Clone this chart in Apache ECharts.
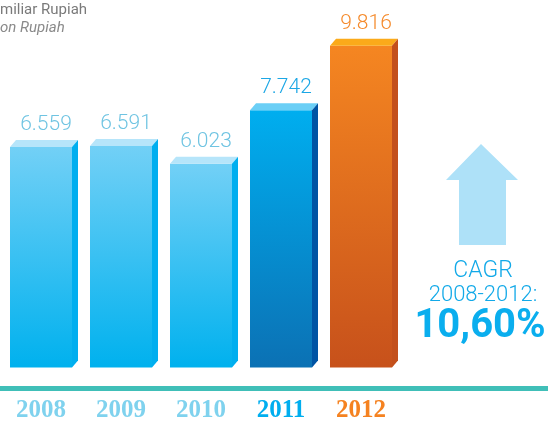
<!DOCTYPE html>
<html><head><meta charset="utf-8">
<script src="https://cdn.jsdelivr.net/npm/echarts@6/dist/echarts.min.js"></script>
<style>html,body{margin:0;padding:0;background:#fff}#c{width:548px;height:423px}</style>
</head><body><div id="c"></div>
<script>
var years = ['2008','2009','2010','2011','2012'];
var values = [6559, 6591, 6023, 7742, 9816];
var valueLabels = ['6.559','6.591','6.023','7.742','9.816'];
var yMin = -530, yMax = 11290;

var light = {front:['#72d0f6','#00b1ee'], top:'#b6e5fa', side:'#00aeef', label:'#6fc4e2', axis:'#7fd2ee'};
var palette = [light, light, light,
  {front:['#00aeef','#0b71b4'], top:'#6bcff6', side:'#0054a4', label:'#1ca7e5', axis:'#00aeef'},
  {front:['#f58621','#c7511b'], top:'#fbaa1a', side:'#c3501c', label:'#f58a2b', axis:'#f58220'}];

var chart = echarts.init(document.getElementById('c'));
chart.setOption({
  animation:false,
  grid:{left:1, right:147, top:0, bottom:53},
  xAxis:{type:'category', data:years, axisLine:{show:false}, axisTick:{show:false},
    axisLabel:{margin:31, fontFamily:'Liberation Serif', fontWeight:'bold', fontSize:25, lineHeight:24,
      color:function(v,i){return palette[i].axis;}}},
  yAxis:{type:'value', min:yMin, max:yMax, show:false, splitLine:{show:false}},
  series:[{
    type:'custom',
    data: values.map(function(v,i){return [i,v];}),
    renderItem:function(params, api){
      var i = api.value(0);
      var top = api.coord([i, api.value(1)]);
      var bot = api.coord([i, yMin]);
      var hw = 31, dx = 6, dy = 7;
      var x0 = top[0]-hw, x1 = top[0]+hw, yt = top[1], yb = bot[1];
      var p = palette[i];
      return {type:'group', children:[
        {type:'rect', shape:{x:x0, y:yt, width:x1-x0, height:yb-yt},
          style:{fill:new echarts.graphic.LinearGradient(0,0,0,1,[{offset:0,color:p.front[0]},{offset:1,color:p.front[1]}])}},
        {type:'polygon', shape:{points:[[x0,yt],[x0+dx,yt-dy],[x1+dx,yt-dy],[x1,yt]]}, style:{fill:p.top}},
        {type:'polygon', shape:{points:[[x1,yt],[x1+dx,yt-dy],[x1+dx,yb-dy],[x1,yb]]}, style:{fill:p.side}},
        {type:'text', style:{text:valueLabels[i], x:top[0]+5, y:yt-dy-5, textAlign:'center', textVerticalAlign:'bottom',
          fontFamily:'Roboto', fontWeight:300, fontSize:21, fill:p.label}}
      ]};
    }
  }],
  graphic:[
    {type:'rect', shape:{x:0, y:386, width:548, height:5}, style:{fill:'#40bfb8'}},
    {type:'polygon', shape:{points:[[481,144],[518,180],[506,180],[506,245],[459,245],[459,180],[446,180]]}, style:{fill:'#aee1f8'}},
    {type:'text', style:{text:'CAGR', x:483, y:271, textAlign:'center', textVerticalAlign:'middle', fontFamily:'Roboto', fontWeight:300, fontSize:23, fill:'#12a9e8'}},
    {type:'text', style:{text:'2008-2012:', x:483, y:295, textAlign:'center', textVerticalAlign:'middle', fontFamily:'Roboto', fontWeight:300, fontSize:22, fill:'#12a9e8'}},
    {type:'text', style:{text:'10,60%', x:480, y:327, textAlign:'center', textVerticalAlign:'middle', fontFamily:'Roboto', fontWeight:'bold', fontSize:40, fill:'#0aaeee'}},
    {type:'text', style:{text:'miliar Rupiah', x:0, y:10, textVerticalAlign:'middle', fontFamily:'Roboto', fontSize:15, fill:'#7a7a7a'}},
    {type:'text', style:{text:'on Rupiah', x:0, y:28, textVerticalAlign:'middle', fontFamily:'Roboto', fontStyle:'italic', fontSize:15, fill:'#8a8a8a'}}
  ]
});
</script></body></html>
